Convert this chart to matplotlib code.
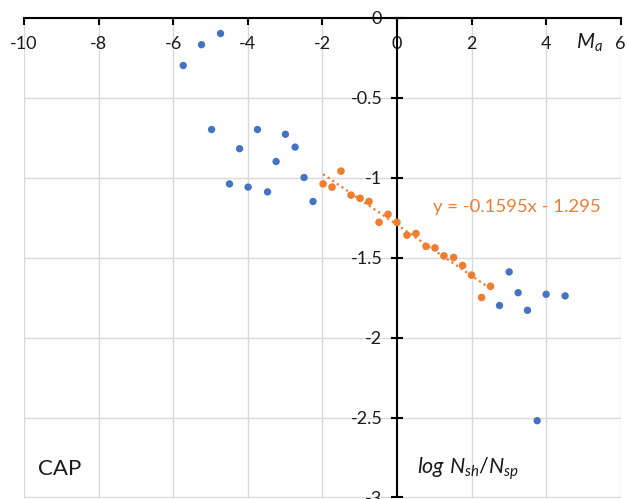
import matplotlib
matplotlib.use("Agg")
import matplotlib.pyplot as plt
import numpy as np

# Magnitude Ma vs log Nsh/Nsp
blue_x = [-5.73, -5.24, -4.73, -4.97, -3.74, -2.99, -4.22, -2.73, -3.24, -2.49,
          -4.49, -3.99, -3.47, -2.25, 3.01, 3.25, 4.00, 4.51, 2.75, 3.50, 3.76]
blue_y = [-0.30, -0.17, -0.10, -0.70, -0.70, -0.73, -0.82, -0.81, -0.90, -1.00,
          -1.04, -1.06, -1.09, -1.15, -1.59, -1.72, -1.73, -1.74, -1.80, -1.83, -2.52]

orange_x = [-1.98, -1.74, -1.50, -1.23, -0.99, -0.75, -0.48, -0.24, 0.00, 0.27,
            0.51, 0.78, 1.02, 1.26, 1.52, 1.76, 2.00, 2.27, 2.51]
orange_y = [-1.04, -1.06, -0.96, -1.11, -1.13, -1.15, -1.28, -1.23, -1.28, -1.36,
            -1.35, -1.43, -1.44, -1.49, -1.50, -1.55, -1.61, -1.75, -1.68]

trend_slope = -0.1595
trend_intercept = -1.295

x_ticks = [-10, -8, -6, -4, -2, 0, 2, 4, 6]
y_ticks = [0, -0.5, -1, -1.5, -2, -2.5, -3]

plt.rcParams['font.family'] = ['Lato', 'DejaVu Sans']
plt.rcParams['mathtext.fontset'] = 'custom'
plt.rcParams['mathtext.it'] = 'Lato:italic'
plt.rcParams['mathtext.rm'] = 'Lato'

BLUE = '#4472C4'
ORANGE = '#ED7D31'
TEXT = '#1a1a1a'

fig = plt.figure(figsize=(6.27, 4.99), dpi=100)
ax = fig.add_axes([24 / 627, 1.5 / 499, (620.7 - 24) / 627, (497.5 - 17.5) / 499])

ax.set_xlim(-10, 6)
ax.set_ylim(-3, 0)
ax.set_xticks(x_ticks)
ax.set_yticks(y_ticks)
ax.set_xticklabels([f"{t:g}" for t in x_ticks])
ax.set_yticklabels([f"{t:g}" for t in y_ticks])

ax.grid(True, color='#d9d9d9', lw=1.0, zorder=0)
ax.set_axisbelow(True)

for side in ('right', 'top'):
    ax.spines[side].set_visible(False)
ax.spines['bottom'].set_position(('data', 0))
ax.spines['left'].set_position(('data', 0))
for side in ('bottom', 'left'):
    ax.spines[side].set_color('black')
    ax.spines[side].set_linewidth(1.5)
    ax.spines[side].set_zorder(2)

ax.tick_params(axis='x', direction='out', length=5, width=1.5, color='black',
               labelsize=13, labelcolor=TEXT, pad=8)
ax.tick_params(axis='y', direction='inout', length=9, width=1.5, color='black',
               labelsize=13, labelcolor=TEXT, pad=6)

ax.scatter(blue_x, blue_y, s=28, color=BLUE, edgecolors='none', zorder=3, clip_on=False)
ax.scatter(orange_x, orange_y, s=30, color=ORANGE, edgecolors='none', zorder=3)

tx = np.array([min(orange_x), max(orange_x)])
ax.plot(tx, trend_slope * tx + trend_intercept, color=ORANGE, lw=1.6,
        linestyle=(0, (1, 1.5)), zorder=2.5)

ax.text(0.975, -1.186, f"y = {trend_slope}x - {-trend_intercept}", color=ORANGE,
        fontsize=13.3, ha='left', va='center')

ax.text(5.16, -0.16, r'$M_a$', fontsize=15, color=TEXT, ha='center', va='center')
ax.text(0.55, -2.82, r'$log\ N_{sh}/N_{sp}$', fontsize=15.5, color=TEXT,
        ha='left', va='center')
ax.text(-9.62, -2.82, 'CAP', fontsize=16, color=TEXT, ha='left', va='center')

fig.savefig('out.png', dpi=100)
